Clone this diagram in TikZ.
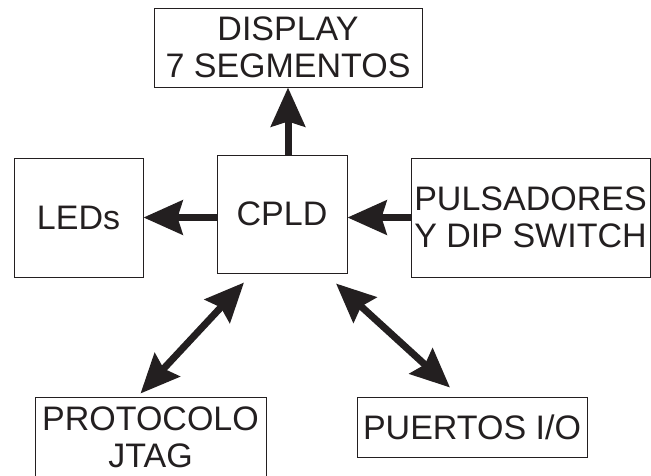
\documentclass[tikz,border=0pt]{standalone}
\usepackage{fontspec}
\setmainfont{Liberation Sans}
\usetikzlibrary{arrows.meta, positioning}
\definecolor{ink}{HTML}{231F20}

\begin{document}
\begin{tikzpicture}[x=1pt, y=-1pt,
    block/.style={draw=ink, line width=1pt, inner sep=0pt, align=center,
        text=ink, font=\fontsize{34}{37}\selectfont},
    fat/.style={draw=ink, line width=7pt,
        -{Stealth[length=39pt, width=34pt, inset=5pt, fill=ink]}},
    fatboth/.style={draw=ink, line width=7pt,
        {Stealth[length=39pt, width=34pt, inset=5pt, fill=ink]}-{Stealth[length=39pt, width=34pt, inset=5pt, fill=ink]}}]
\clip (0,0) rectangle (651,475);

% The blocks
\node [block, minimum width=268pt, minimum height=79pt] (display) at (288,47.5) {DISPLAY\\7 SEGMENTOS};
\node [block, minimum width=130pt, minimum height=118pt] (cpld) at (282,214) {CPLD};
\node [block, minimum width=129pt, minimum height=119pt] (leds) at (78.5,217.5) {LEDs};
\node [block, minimum width=239pt, minimum height=119pt] (pulsadores) at (530.5,217.5) {PULSADORES\\Y DIP SWITCH};
\node [block, minimum width=231pt, minimum height=81pt] (jtag) at (150.5,437.5) {PROTOCOLO\\JTAG};
\node [block, minimum width=230pt, minimum height=60pt] (puertos) at (472,427) {PUERTOS I/O};

% Outputs and inputs
\draw [fat] (display.south |- cpld.north) -- (display.south);
\draw [fat] (cpld.west |- leds.east) -- (leds.east);
\draw [fat] (pulsadores.west) -- (cpld.east |- pulsadores.west);

% Bidirectional links
\draw [fatboth] ([xshift=-10pt, yshift=3pt]jtag.north) -- ([xshift=-38pt, yshift=-9pt]cpld.south);
\draw [fatboth] ([xshift=54pt, yshift=-10pt]cpld.south) -- ([xshift=-22pt, yshift=9pt]puertos.north);

\end{tikzpicture}
\end{document}
